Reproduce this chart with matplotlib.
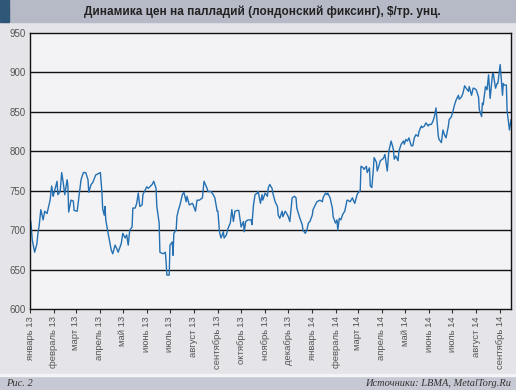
import matplotlib
matplotlib.use("Agg")
import matplotlib.pyplot as plt
import pandas as pd
from matplotlib.patches import Rectangle

plt.rcParams["font.family"] = ["Liberation Sans", "DejaVu Sans"]

# days since 1 Jan 2013 and London fix, $/oz
DAY = [1, 3, 6, 9, 10, 12, 14, 17, 19, 22, 26, 28, 30, 31, 35, 36, 39, 41, 43, 45,
       48, 49, 50, 53, 56, 57, 61, 63, 66, 69, 72, 75, 76, 79, 81, 85, 91, 93, 94, 96,
       97, 98, 101, 105, 107, 110, 112, 114, 118, 120, 123, 125, 127, 129, 132, 133, 136, 138, 140, 142,
       145, 146, 151, 153, 158, 160, 163, 164, 167, 168, 172, 175, 176, 177, 180, 181, 184, 185, 186, 189,
       190, 192, 194, 197, 199, 202, 203, 206, 210, 211, 214, 216, 219, 223, 225, 229, 230, 234, 237, 239,
       242, 243, 245, 247, 250, 251, 254, 256, 259, 261, 263, 265, 268, 270, 273, 276, 277, 279, 282, 286,
       287, 289, 291, 294, 295, 298, 300, 301, 304, 307, 308, 310, 313, 314, 317, 320, 321, 323, 326, 327,
       330, 332, 334, 336, 339, 342, 344, 345, 349, 352, 353, 356, 358, 360, 362, 365, 366, 369, 371, 375,
       378, 379, 382, 384, 385, 388, 391, 392, 395, 397, 398, 400, 402, 404, 405, 407, 410, 411, 414, 417,
       418, 420, 423, 424, 427, 428, 431, 432, 435, 436, 439, 440, 442, 444, 445, 448, 449, 451, 453, 457,
       459, 462, 464, 467, 470, 471, 473, 476, 477, 480, 483, 484, 486, 488, 490, 493, 495, 497, 499, 502,
       503, 506, 507, 510, 512, 515, 516, 519, 521, 523, 525, 528, 529, 532, 534, 536, 538, 541, 542, 545,
       547, 549, 551, 554, 555, 558, 560, 562, 564, 567, 568, 571, 573, 574, 577, 580, 581, 584, 585, 586,
       589, 591, 593, 595, 598, 599, 602, 604, 605, 608, 611, 612, 613, 616, 617, 620, 622]
PRICE = [711, 687, 672, 683, 694, 707, 726, 713, 724, 721, 738, 756, 743, 747, 762, 745, 749, 773, 760, 745,
         764, 756, 723, 738, 737, 725, 724, 740, 764, 773, 773, 764, 748, 758, 760, 770, 773, 748, 727, 719,
         730, 713, 696, 675, 670, 681, 677, 672, 683, 696, 690, 694, 681, 700, 704, 728, 728, 734, 747, 730,
         732, 745, 755, 753, 758, 762, 753, 730, 709, 672, 670, 672, 660, 643, 643, 681, 685, 668, 696, 700,
         717, 726, 732, 745, 748, 736, 743, 732, 734, 732, 724, 738, 738, 741, 762, 753, 749, 749, 745, 741,
         724, 724, 698, 690, 698, 690, 694, 702, 709, 726, 711, 724, 725, 725, 704, 711, 698, 711, 713, 713,
         707, 732, 745, 747, 749, 734, 745, 738, 747, 743, 753, 758, 753, 747, 736, 730, 719, 715, 724, 717,
         724, 721, 717, 711, 741, 743, 741, 728, 715, 707, 700, 696, 700, 709, 711, 719, 726, 732, 736, 738,
         736, 741, 747, 745, 747, 741, 728, 717, 709, 713, 700, 715, 713, 719, 721, 724, 738, 738, 736, 741,
         738, 734, 745, 747, 750, 781, 779, 777, 781, 773, 779, 756, 754, 777, 792, 786, 775, 781, 788, 791,
         796, 775, 800, 813, 802, 790, 794, 788, 800, 809, 813, 809, 815, 813, 817, 807, 807, 817, 821, 819,
         825, 832, 830, 832, 836, 832, 834, 834, 838, 844, 855, 819, 815, 811, 827, 821, 817, 832, 840, 844,
         851, 859, 865, 871, 866, 869, 874, 883, 880, 876, 882, 871, 880, 880, 878, 869, 853, 844, 861, 859,
         882, 878, 897, 867, 897, 899, 880, 886, 886, 910, 871, 886, 884, 884, 851, 827, 840]

MONTHS = ["январь", "февраль", "март", "апрель", "май", "июнь", "июль", "август",
          "сентябрь", "октябрь", "ноябрь", "декабрь"]
TICK_DATES = pd.date_range("2013-01-01", "2014-09-01", freq="MS")
TICK_LABELS = [f"{MONTHS[d.month - 1]} {d.year % 100}" for d in TICK_DATES]
YTICKS = [600, 650, 700, 750, 800, 850, 900, 950]

dates = pd.Timestamp("2013-01-01") + pd.to_timedelta(DAY, unit="D")

fig = plt.figure(figsize=(5.16, 3.9), dpi=100)
fig.patch.set_facecolor("#e5e5e9")

# title bar and footer bar
fig.add_artist(Rectangle((0, 1 - 22 / 390), 1, 22 / 390, transform=fig.transFigure,
                         color="#b6b9c6", zorder=0))
fig.add_artist(Rectangle((0, 1 - 22 / 390), 9 / 516, 22 / 390, transform=fig.transFigure,
                         color="#2f5878", zorder=1))
fig.add_artist(Rectangle((0, 0), 1, 14 / 390, transform=fig.transFigure,
                         color="#c6c9d4", zorder=0))
fig.add_artist(Rectangle((0, 14 / 390), 1, 2 / 390, transform=fig.transFigure,
                         color="#f4f4f6", zorder=0))

fig.text(0.508, 1 - 12 / 390, "Динамика цен на палладий (лондонский фиксинг), $/тр. унц.",
         ha="center", va="center", fontsize=8.45, fontweight="bold", color="#222222")
fig.text(6 / 516, 6.5 / 390, "Рис. 2", ha="left", va="center", fontsize=7.5,
         family="Liberation Serif", style="italic", color="#333333")
fig.text(511 / 516, 6.5 / 390, "Источники: LBMA, MetalTorg.Ru", ha="right", va="center",
         fontsize=7.5, family="Liberation Serif", style="italic", color="#333333")

ax = fig.add_axes([30 / 516, 1 - 309 / 390, 481 / 516, 276 / 390])
ax.set_facecolor("#f3f3f5")
for yv in YTICKS[1:-1]:
    ax.axhline(yv, color="#111111", lw=1.0, zorder=1)
ax.plot(dates, PRICE, color="#2470b2", lw=1.0, zorder=2)

ax.set_ylim(600, 950)
ax.set_yticks(YTICKS)
ax.set_xlim(pd.Timestamp("2013-01-01"), pd.Timestamp("2014-09-15"))
ax.set_xticks(TICK_DATES)
ax.set_xticklabels(TICK_LABELS, rotation=90, fontsize=6.8, color="#555555")
ax.tick_params(axis="y", labelsize=7, labelcolor="#555555", length=0, pad=3)
ax.tick_params(axis="x", length=3, width=0.8, color="#333333", pad=2)
for s in ax.spines.values():
    s.set_color("#111111")
    s.set_linewidth(1.0)

fig.savefig("out.png", dpi=100, facecolor=fig.get_facecolor())
